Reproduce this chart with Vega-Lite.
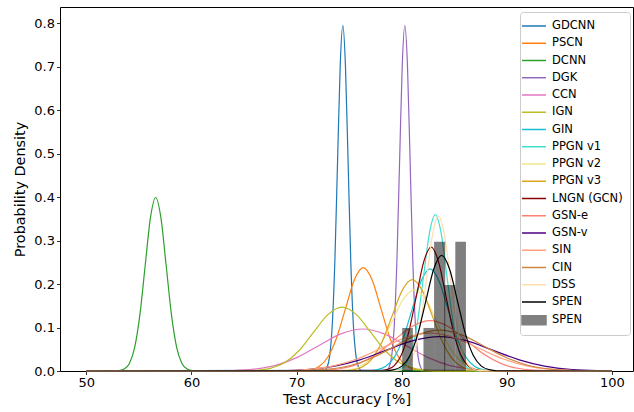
{
  "$schema": "https://vega.github.io/schema/vega-lite/v6.json",
  "autosize": {"type": "none"},
  "width": 573,
  "height": 364,
  "padding": {"left": 60, "top": 7, "right": 1, "bottom": 41},
  "background": "white",
  "config": {
    "font": "DejaVu Sans",
    "view": {"stroke": "#000000", "strokeWidth": 1},
    "axis": {
      "grid": false, "domain": false, "tickColor": "#000000", "tickSize": 3.5, "tickWidth": 0.8,
      "labelFontSize": 13, "labelColor": "#000000", "labelFont": "DejaVu Sans",
      "titleFontSize": 14.4, "titleFontWeight": "normal", "titleColor": "#000000", "titleFont": "DejaVu Sans",
      "labelPadding": 2
    }
  },
  "datasets": {
    "curves": [
      {"m":"GDCNN","x":50,"y":0},{"m":"GDCNN","x":72.65,"y":0.0017},{"m":"GDCNN","x":72.9,"y":0.0088},{"m":"GDCNN","x":73.15,"y":0.0349},{"m":"GDCNN","x":73.4,"y":0.1076},{"m":"GDCNN","x":73.65,"y":0.2581},{"m":"GDCNN","x":73.9,"y":0.4822},{"m":"GDCNN","x":74.15,"y":0.7016},{"m":"GDCNN","x":74.4,"y":0.795},{"m":"GDCNN","x":74.65,"y":0.7016},{"m":"GDCNN","x":74.9,"y":0.4822},{"m":"GDCNN","x":75.15,"y":0.2581},{"m":"GDCNN","x":75.4,"y":0.1076},{"m":"GDCNN","x":75.65,"y":0.0349},{"m":"GDCNN","x":75.9,"y":0.0088},{"m":"GDCNN","x":76.15,"y":0.0017},{"m":"GDCNN","x":100,"y":0},
      {"m":"PSCN","x":50,"y":0},{"m":"PSCN","x":70.46,"y":0.0005},{"m":"PSCN","x":71.3,"y":0.0026},{"m":"PSCN","x":72.14,"y":0.0104},{"m":"PSCN","x":72.98,"y":0.0321},{"m":"PSCN","x":73.82,"y":0.0771},{"m":"PSCN","x":74.66,"y":0.144},{"m":"PSCN","x":75.5,"y":0.2096},{"m":"PSCN","x":76.34,"y":0.2375},{"m":"PSCN","x":77.18,"y":0.2096},{"m":"PSCN","x":78.02,"y":0.144},{"m":"PSCN","x":78.86,"y":0.0771},{"m":"PSCN","x":79.7,"y":0.0321},{"m":"PSCN","x":80.54,"y":0.0104},{"m":"PSCN","x":81.38,"y":0.0026},{"m":"PSCN","x":82.22,"y":0.0005},{"m":"PSCN","x":100,"y":0},
      {"m":"DCNN","x":50,"y":0},{"m":"DCNN","x":53.1,"y":0.0009},{"m":"DCNN","x":53.6,"y":0.0044},{"m":"DCNN","x":54.1,"y":0.0175},{"m":"DCNN","x":54.6,"y":0.054},{"m":"DCNN","x":55.1,"y":0.1296},{"m":"DCNN","x":55.6,"y":0.242},{"m":"DCNN","x":56.1,"y":0.3521},{"m":"DCNN","x":56.6,"y":0.399},{"m":"DCNN","x":57.1,"y":0.3521},{"m":"DCNN","x":57.6,"y":0.242},{"m":"DCNN","x":58.1,"y":0.1296},{"m":"DCNN","x":58.6,"y":0.054},{"m":"DCNN","x":59.1,"y":0.0175},{"m":"DCNN","x":59.6,"y":0.0044},{"m":"DCNN","x":60.1,"y":0.0009},{"m":"DCNN","x":100,"y":0},
      {"m":"DGK","x":50,"y":0},{"m":"DGK","x":78.55,"y":0.0017},{"m":"DGK","x":78.8,"y":0.0088},{"m":"DGK","x":79.05,"y":0.0349},{"m":"DGK","x":79.3,"y":0.1076},{"m":"DGK","x":79.55,"y":0.2581},{"m":"DGK","x":79.8,"y":0.4822},{"m":"DGK","x":80.05,"y":0.7016},{"m":"DGK","x":80.3,"y":0.795},{"m":"DGK","x":80.55,"y":0.7016},{"m":"DGK","x":80.8,"y":0.4822},{"m":"DGK","x":81.05,"y":0.2581},{"m":"DGK","x":81.3,"y":0.1076},{"m":"DGK","x":81.55,"y":0.0349},{"m":"DGK","x":81.8,"y":0.0088},{"m":"DGK","x":82.05,"y":0.0017},{"m":"DGK","x":100,"y":0},
      {"m":"CCN","x":50,"y":0},{"m":"CCN","x":61.81,"y":0.0002},{"m":"CCN","x":63.88,"y":0.0011},{"m":"CCN","x":65.94,"y":0.0042},{"m":"CCN","x":68.01,"y":0.0131},{"m":"CCN","x":70.07,"y":0.0314},{"m":"CCN","x":72.14,"y":0.0586},{"m":"CCN","x":74.21,"y":0.0853},{"m":"CCN","x":76.27,"y":0.0966},{"m":"CCN","x":78.34,"y":0.0853},{"m":"CCN","x":80.4,"y":0.0586},{"m":"CCN","x":82.47,"y":0.0314},{"m":"CCN","x":84.53,"y":0.0131},{"m":"CCN","x":86.6,"y":0.0042},{"m":"CCN","x":88.66,"y":0.0011},{"m":"CCN","x":90.73,"y":0.0002},{"m":"CCN","x":100,"y":0},
      {"m":"IGN","x":50,"y":0},{"m":"IGN","x":64.85,"y":0.0003},{"m":"IGN","x":66.2,"y":0.0016},{"m":"IGN","x":67.56,"y":0.0065},{"m":"IGN","x":68.91,"y":0.0199},{"m":"IGN","x":70.27,"y":0.0477},{"m":"IGN","x":71.62,"y":0.0892},{"m":"IGN","x":72.98,"y":0.1297},{"m":"IGN","x":74.33,"y":0.147},{"m":"IGN","x":75.69,"y":0.1297},{"m":"IGN","x":77.04,"y":0.0892},{"m":"IGN","x":78.4,"y":0.0477},{"m":"IGN","x":79.75,"y":0.0199},{"m":"IGN","x":81.11,"y":0.0065},{"m":"IGN","x":82.46,"y":0.0016},{"m":"IGN","x":83.82,"y":0.0003},{"m":"IGN","x":100,"y":0},
      {"m":"GIN","x":50,"y":0},{"m":"GIN","x":76.75,"y":0.0005},{"m":"GIN","x":77.6,"y":0.0026},{"m":"GIN","x":78.45,"y":0.0103},{"m":"GIN","x":79.3,"y":0.0318},{"m":"GIN","x":80.15,"y":0.0762},{"m":"GIN","x":81.0,"y":0.1423},{"m":"GIN","x":81.85,"y":0.2071},{"m":"GIN","x":82.7,"y":0.2347},{"m":"GIN","x":83.55,"y":0.2071},{"m":"GIN","x":84.4,"y":0.1423},{"m":"GIN","x":85.25,"y":0.0762},{"m":"GIN","x":86.1,"y":0.0318},{"m":"GIN","x":86.95,"y":0.0103},{"m":"GIN","x":87.8,"y":0.0026},{"m":"GIN","x":88.65,"y":0.0005},{"m":"GIN","x":100,"y":0},
      {"m":"PPGN v1","x":50,"y":0},{"m":"PPGN v1","x":79.31,"y":0.0008},{"m":"PPGN v1","x":79.86,"y":0.004},{"m":"PPGN v1","x":80.42,"y":0.0158},{"m":"PPGN v1","x":80.97,"y":0.0486},{"m":"PPGN v1","x":81.53,"y":0.1167},{"m":"PPGN v1","x":82.08,"y":0.218},{"m":"PPGN v1","x":82.64,"y":0.3172},{"m":"PPGN v1","x":83.19,"y":0.3594},{"m":"PPGN v1","x":83.75,"y":0.3172},{"m":"PPGN v1","x":84.3,"y":0.218},{"m":"PPGN v1","x":84.86,"y":0.1167},{"m":"PPGN v1","x":85.41,"y":0.0486},{"m":"PPGN v1","x":85.97,"y":0.0158},{"m":"PPGN v1","x":86.52,"y":0.004},{"m":"PPGN v1","x":87.08,"y":0.0008},{"m":"PPGN v1","x":100,"y":0},
      {"m":"PPGN v2","x":50,"y":0},{"m":"PPGN v2","x":73.72,"y":0.0004},{"m":"PPGN v2","x":74.79,"y":0.0021},{"m":"PPGN v2","x":75.86,"y":0.0082},{"m":"PPGN v2","x":76.93,"y":0.0252},{"m":"PPGN v2","x":78.0,"y":0.0605},{"m":"PPGN v2","x":79.07,"y":0.1131},{"m":"PPGN v2","x":80.14,"y":0.1645},{"m":"PPGN v2","x":81.21,"y":0.1864},{"m":"PPGN v2","x":82.28,"y":0.1645},{"m":"PPGN v2","x":83.35,"y":0.1131},{"m":"PPGN v2","x":84.42,"y":0.0605},{"m":"PPGN v2","x":85.49,"y":0.0252},{"m":"PPGN v2","x":86.56,"y":0.0082},{"m":"PPGN v2","x":87.63,"y":0.0021},{"m":"PPGN v2","x":88.7,"y":0.0004},{"m":"PPGN v2","x":100,"y":0},
      {"m":"PPGN v3","x":50,"y":0},{"m":"PPGN v3","x":74.35,"y":0.0005},{"m":"PPGN v3","x":75.3,"y":0.0023},{"m":"PPGN v3","x":76.25,"y":0.0092},{"m":"PPGN v3","x":77.2,"y":0.0284},{"m":"PPGN v3","x":78.15,"y":0.0682},{"m":"PPGN v3","x":79.1,"y":0.1274},{"m":"PPGN v3","x":80.05,"y":0.1853},{"m":"PPGN v3","x":81.0,"y":0.21},{"m":"PPGN v3","x":81.95,"y":0.1853},{"m":"PPGN v3","x":82.9,"y":0.1274},{"m":"PPGN v3","x":83.85,"y":0.0682},{"m":"PPGN v3","x":84.8,"y":0.0284},{"m":"PPGN v3","x":85.75,"y":0.0092},{"m":"PPGN v3","x":86.7,"y":0.0023},{"m":"PPGN v3","x":87.65,"y":0.0005},{"m":"PPGN v3","x":100,"y":0},
      {"m":"LNGN (GCN)","x":50,"y":0},{"m":"LNGN (GCN)","x":77.9,"y":0.0006},{"m":"LNGN (GCN)","x":78.6,"y":0.0032},{"m":"LNGN (GCN)","x":79.3,"y":0.0125},{"m":"LNGN (GCN)","x":80.0,"y":0.0386},{"m":"LNGN (GCN)","x":80.7,"y":0.0925},{"m":"LNGN (GCN)","x":81.4,"y":0.1729},{"m":"LNGN (GCN)","x":82.1,"y":0.2515},{"m":"LNGN (GCN)","x":82.8,"y":0.285},{"m":"LNGN (GCN)","x":83.5,"y":0.2515},{"m":"LNGN (GCN)","x":84.2,"y":0.1729},{"m":"LNGN (GCN)","x":84.9,"y":0.0925},{"m":"LNGN (GCN)","x":85.6,"y":0.0386},{"m":"LNGN (GCN)","x":86.3,"y":0.0125},{"m":"LNGN (GCN)","x":87.0,"y":0.0032},{"m":"LNGN (GCN)","x":87.7,"y":0.0006},{"m":"LNGN (GCN)","x":100,"y":0},
      {"m":"GSN-e","x":50,"y":0},{"m":"GSN-e","x":70.66,"y":0.0003},{"m":"GSN-e","x":72.38,"y":0.0013},{"m":"GSN-e","x":74.1,"y":0.0051},{"m":"GSN-e","x":75.82,"y":0.0157},{"m":"GSN-e","x":77.54,"y":0.0377},{"m":"GSN-e","x":79.26,"y":0.0704},{"m":"GSN-e","x":80.98,"y":0.1024},{"m":"GSN-e","x":82.7,"y":0.116},{"m":"GSN-e","x":84.42,"y":0.1024},{"m":"GSN-e","x":86.14,"y":0.0704},{"m":"GSN-e","x":87.86,"y":0.0377},{"m":"GSN-e","x":89.58,"y":0.0157},{"m":"GSN-e","x":91.3,"y":0.0051},{"m":"GSN-e","x":93.02,"y":0.0013},{"m":"GSN-e","x":94.74,"y":0.0003},{"m":"GSN-e","x":100,"y":0},
      {"m":"GSN-v","x":50,"y":0},{"m":"GSN-v","x":65.93,"y":0.0002},{"m":"GSN-v","x":68.46,"y":0.0009},{"m":"GSN-v","x":70.98,"y":0.0035},{"m":"GSN-v","x":73.5,"y":0.0107},{"m":"GSN-v","x":76.03,"y":0.0257},{"m":"GSN-v","x":78.55,"y":0.0479},{"m":"GSN-v","x":81.08,"y":0.0697},{"m":"GSN-v","x":83.6,"y":0.079},{"m":"GSN-v","x":86.13,"y":0.0697},{"m":"GSN-v","x":88.65,"y":0.0479},{"m":"GSN-v","x":91.18,"y":0.0257},{"m":"GSN-v","x":93.7,"y":0.0107},{"m":"GSN-v","x":96.23,"y":0.0035},{"m":"GSN-v","x":98.75,"y":0.0009},{"m":"GSN-v","x":100,"y":0.0004},
      {"m":"SIN","x":50,"y":0},{"m":"SIN","x":66.6,"y":0.0002},{"m":"SIN","x":68.9,"y":0.001},{"m":"SIN","x":71.2,"y":0.0038},{"m":"SIN","x":73.5,"y":0.0118},{"m":"SIN","x":75.8,"y":0.0283},{"m":"SIN","x":78.1,"y":0.0528},{"m":"SIN","x":80.4,"y":0.0768},{"m":"SIN","x":82.7,"y":0.087},{"m":"SIN","x":85.0,"y":0.0768},{"m":"SIN","x":87.3,"y":0.0528},{"m":"SIN","x":89.6,"y":0.0283},{"m":"SIN","x":91.9,"y":0.0118},{"m":"SIN","x":94.2,"y":0.0038},{"m":"SIN","x":96.5,"y":0.001},{"m":"SIN","x":98.8,"y":0.0002},{"m":"SIN","x":100,"y":0},
      {"m":"CIN","x":50,"y":0},{"m":"CIN","x":68.76,"y":0.0002},{"m":"CIN","x":70.88,"y":0.001},{"m":"CIN","x":73.0,"y":0.0041},{"m":"CIN","x":75.12,"y":0.0127},{"m":"CIN","x":77.24,"y":0.0305},{"m":"CIN","x":79.36,"y":0.057},{"m":"CIN","x":81.48,"y":0.083},{"m":"CIN","x":83.6,"y":0.094},{"m":"CIN","x":85.72,"y":0.083},{"m":"CIN","x":87.84,"y":0.057},{"m":"CIN","x":89.96,"y":0.0305},{"m":"CIN","x":92.08,"y":0.0127},{"m":"CIN","x":94.2,"y":0.0041},{"m":"CIN","x":96.32,"y":0.001},{"m":"CIN","x":98.44,"y":0.0002},{"m":"CIN","x":100,"y":0},
      {"m":"DSS","x":50,"y":0},{"m":"DSS","x":79.58,"y":0.0008},{"m":"DSS","x":80.14,"y":0.004},{"m":"DSS","x":80.7,"y":0.0156},{"m":"DSS","x":81.26,"y":0.0482},{"m":"DSS","x":81.82,"y":0.1156},{"m":"DSS","x":82.38,"y":0.2159},{"m":"DSS","x":82.94,"y":0.3142},{"m":"DSS","x":83.5,"y":0.356},{"m":"DSS","x":84.06,"y":0.3142},{"m":"DSS","x":84.62,"y":0.2159},{"m":"DSS","x":85.18,"y":0.1156},{"m":"DSS","x":85.74,"y":0.0482},{"m":"DSS","x":86.3,"y":0.0156},{"m":"DSS","x":86.86,"y":0.004},{"m":"DSS","x":87.42,"y":0.0008},{"m":"DSS","x":100,"y":0},
      {"m":"SPEN","x":50,"y":0},{"m":"SPEN","x":78.55,"y":0.0006},{"m":"SPEN","x":79.3,"y":0.003},{"m":"SPEN","x":80.05,"y":0.0117},{"m":"SPEN","x":80.8,"y":0.036},{"m":"SPEN","x":81.55,"y":0.0864},{"m":"SPEN","x":82.3,"y":0.1613},{"m":"SPEN","x":83.05,"y":0.2347},{"m":"SPEN","x":83.8,"y":0.266},{"m":"SPEN","x":84.55,"y":0.2347},{"m":"SPEN","x":85.3,"y":0.1613},{"m":"SPEN","x":86.05,"y":0.0864},{"m":"SPEN","x":86.8,"y":0.036},{"m":"SPEN","x":87.55,"y":0.0117},{"m":"SPEN","x":88.3,"y":0.003},{"m":"SPEN","x":89.05,"y":0.0006},{"m":"SPEN","x":100,"y":0}
    ],
    "hist": [
      {"m":"SPEN ","a":80.05,"b":81.06,"h":0.099},
      {"m":"SPEN ","a":82.07,"b":83.08,"h":0.099},
      {"m":"SPEN ","a":83.08,"b":84.14,"h":0.297},
      {"m":"SPEN ","a":84.04,"b":85.1,"h":0.198},
      {"m":"SPEN ","a":85.1,"b":86.11,"h":0.297}
    ]
  },
  "layer": [
    {
      "data": {"name": "curves"},
      "mark": {"type": "line", "strokeWidth": 1.2, "interpolate": "monotone"},
      "encoding": {
        "x": {"field": "x", "type": "quantitative", "title": "Test Accuracy [%]",
              "scale": {"domain": [47.5, 102], "nice": false, "zero": false},
              "axis": {"values": [50, 60, 70, 80, 90, 100], "titlePadding": 2.5}},
        "y": {"field": "y", "type": "quantitative", "title": "Probability Density",
              "scale": {"domain": [0, 0.837], "nice": false},
              "axis": {"values": [0, 0.1, 0.2, 0.3, 0.4, 0.5, 0.6, 0.7, 0.8], "format": ".1f", "titlePadding": 6}},
        "color": {"field": "m", "type": "nominal",
          "scale": {
            "domain": ["GDCNN","PSCN","DCNN","DGK","CCN","IGN","GIN","PPGN v1","PPGN v2","PPGN v3","LNGN (GCN)","GSN-e","GSN-v","SIN","CIN","DSS","SPEN","SPEN "],
            "range": ["#1f77b4","#ff7f0e","#2ca02c","#9467bd","#e377c2","#bcbd22","#17becf","#40e0d0","#f0e68c","#daa520","#8b0000","#fa8072","#4b0082","#ffa07a","#cd853f","#ffdead","#000000","#808080"]
          },
          "legend": {
            "title": null, "orient": "none", "legendX": 460, "legendY": 5,
            "labelFontSize": 11.5, "labelFont": "DejaVu Sans", "labelColor": "#000000",
            "symbolSize": 144, "symbolStrokeWidth": 1.5, "rowPadding": 4.25,
            "labelOffset": 11, "padding": 7, "strokeColor": "#cccccc", "fillColor": "#ffffff", "cornerRadius": 3,
            "encode": {"symbols": {"update": {
              "shape": [{"test": "datum.value === 'SPEN '", "value": "M-2,-0.75H2V0.75H-2Z"}, {"value": "M-2,0H2"}],
              "fill": [{"test": "datum.value === 'SPEN '", "value": "#808080"}, {"value": "transparent"}],
              "stroke": [{"test": "datum.value === 'SPEN '", "value": "transparent"}, {"scale": "color", "field": "value"}],
              "strokeWidth": {"value": 1.5},
              "opacity": {"value": 1}
            }}}
          }
        }
      }
    },
    {
      "data": {"name": "hist"},
      "mark": {"type": "bar", "opacity": 0.5},
      "encoding": {
        "x": {"field": "a", "type": "quantitative"},
        "x2": {"field": "b"},
        "y": {"field": "h", "type": "quantitative"},
        "y2": {"datum": 0},
        "color": {"condition": {"test": "true", "value": "#000000"}, "field": "m", "type": "nominal"}
      }
    }
  ]
}
